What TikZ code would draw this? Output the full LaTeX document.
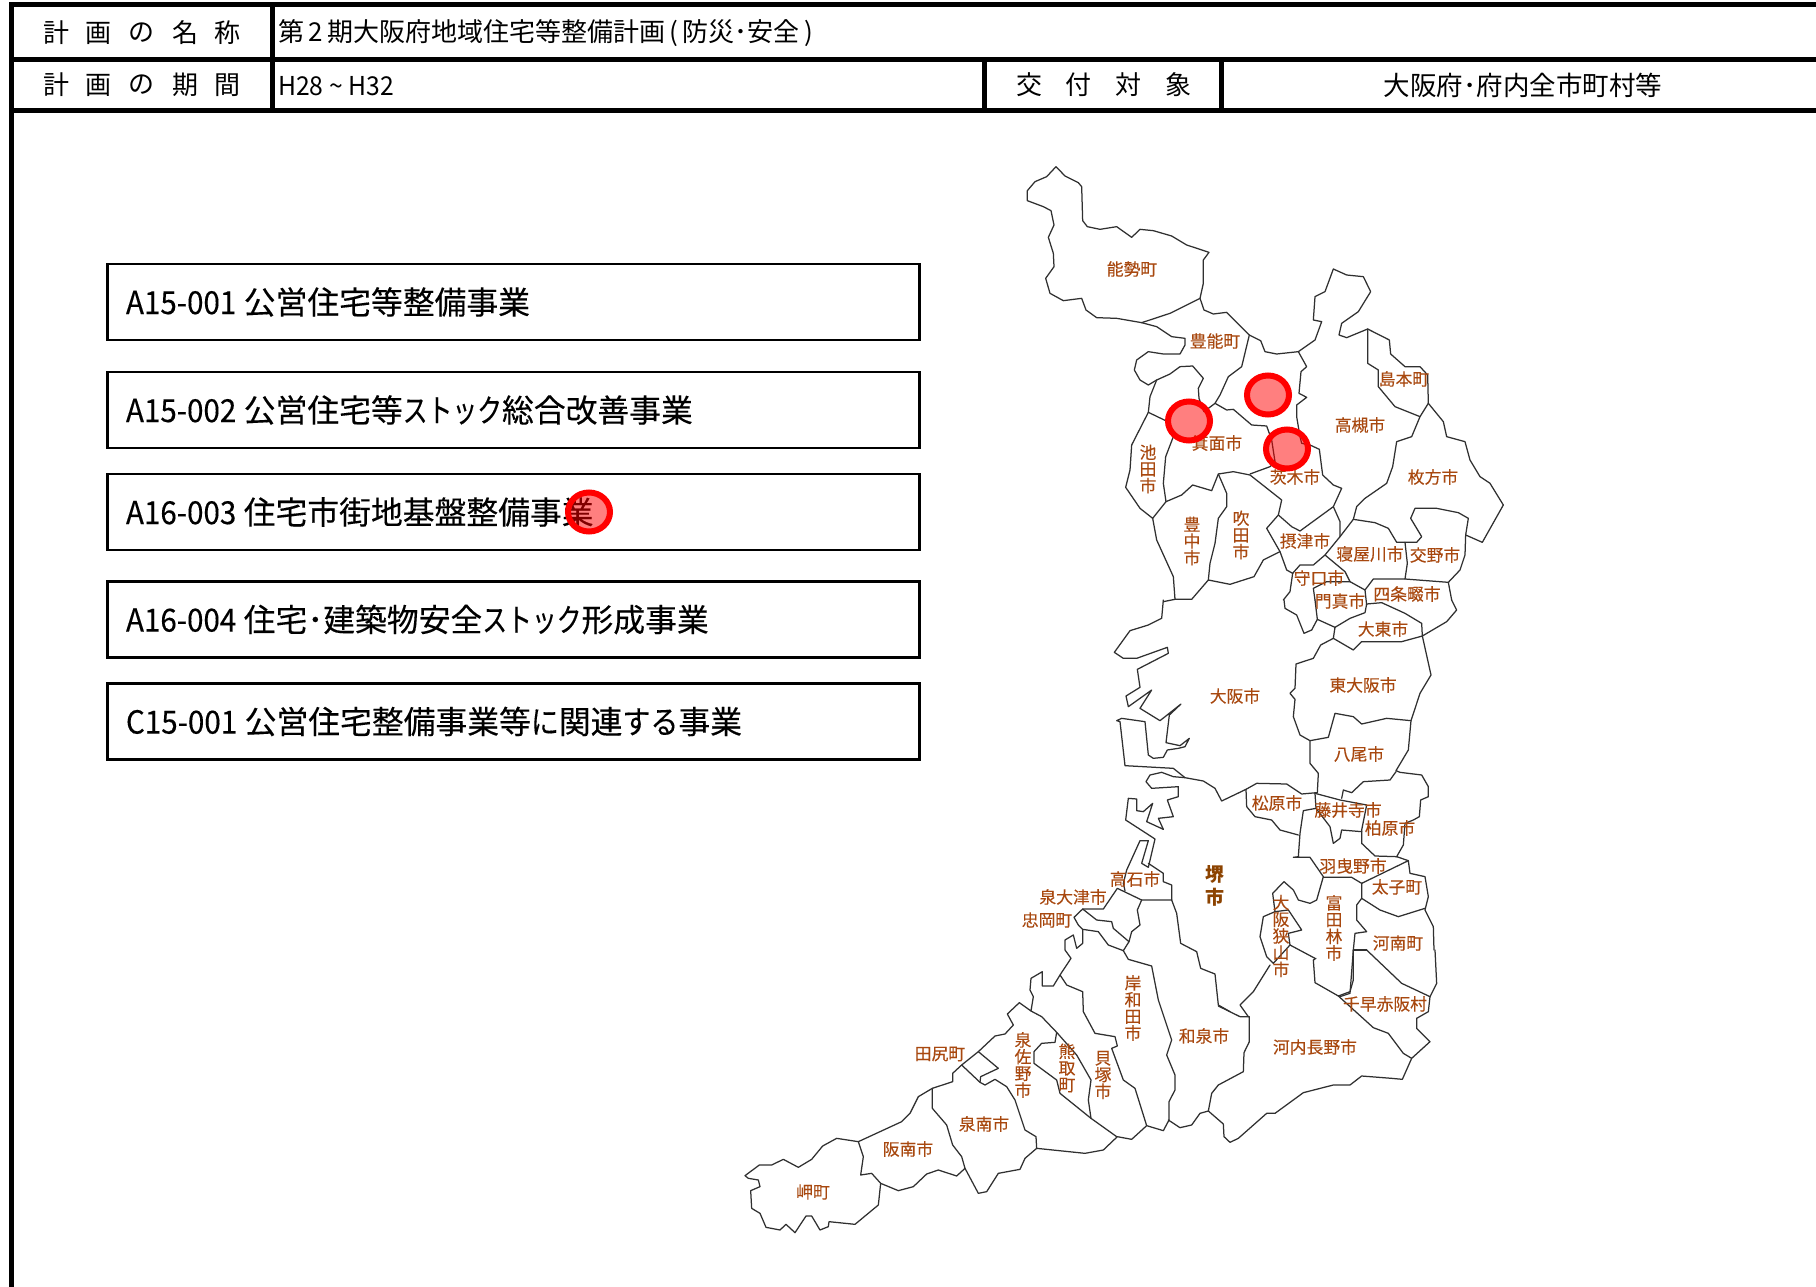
\documentclass[tikz,border=0pt]{standalone}
\usepackage{fontspec}
\usepackage{graphicx}
\setmainfont{Noto Sans CJK JP}
\newfontfamily\itemfont{Noto Sans CJK JP}[FakeBold=0.25]
\newfontfamily\labfont{Noto Sans CJK JP}[FakeBold=0.12]
\definecolor{lab}{HTML}{A8480F}
\definecolor{labd}{HTML}{8C4300}
\definecolor{mapc}{HTML}{303030}
\newcommand\nar[1]{\scalebox{0.93}[1]{#1}\hspace{7.5pt}}
\newcommand\kat{\scalebox{0.78}[1]{ストック}}
\newcommand\mln[1]{\draw[mapline] plot coordinates {#1};}
\tikzset{
  x=1pt,y=-1pt,
  frameline/.style={line width=5pt,black},
  mapline/.style={line width=1.25pt,mapc,line join=round,line cap=round},
  cell/.style={inner sep=0pt,font=\fontsize{26}{26}\selectfont,black},
  cellh/.style={cell,anchor=center},
  itembox/.style={draw=black,line width=2.6pt,minimum width=812pt,minimum height=76pt,inner sep=0pt,
     text width=775pt,align=left,font=\fontsize{31.8}{32}\selectfont\itemfont,black},
  maplab/.style={inner sep=0pt,text=lab,font=\fontsize{16.8}{16.7}\selectfont\labfont,align=center},
  boldlab/.style={inner sep=0pt,text=labd,font=\fontsize{19}{23}\selectfont\bfseries,align=center},
  spot/.style={draw=red,line width=6pt,fill=red,fill opacity=0.5,draw opacity=1},
}
\begin{document}
\begin{tikzpicture}
\useasboundingbox (0,0) rectangle (1816,1287);
\fill[white] (0,0) rectangle (1816,1287);
% frame
\draw[frameline] (1816,5) -- (11.5,5) -- (11.5,1287);
\draw[frameline] (11.5,59.5) -- (1816,59.5);
\draw[frameline] (11.5,111) -- (1816,111);
\draw[frameline] (272,5) -- (272,111);
\draw[frameline] (984,59.5) -- (984,111);
\draw[frameline] (1221,59.5) -- (1221,111);
% table text
\foreach \t/\x in {計/56,画/98,の/141,名/185,称/227} \node[cellh] at (\x,33) {\t};
\foreach \t/\x in {計/56,画/98,の/141,期/185,間/227} \node[cellh] at (\x,85) {\t};
\foreach \t/\x in {交/1029,付/1078,対/1128,象/1178} \node[cellh] at (\x,85) {\t};
\node[cell,anchor=west] (title) at (278,33) {第\,2\,期大阪府地域住宅等整備計画\,(\,防災･安全\,)};
\node[cell,anchor=west] (period) at (278,86) {\scalebox{0.95}[1]{H28 \textasciitilde{} H32}};
\node[cell,font=\fontsize{26.5}{26.5}\selectfont] (target) at (1523,85) {大阪府･府内全市町村等};
% item boxes
\node[itembox] (b1) at (513.5,302) {\nar{A15-001}公営住宅等整備事業};
\node[itembox] (b2) at (513.5,410) {\nar{A15-002}公営住宅等\kat 総合改善事業};
\node[itembox] (b3) at (513.5,512) {\nar{A16-003}住宅市街地基盤整備事業};
\node[itembox] (b4) at (513.5,619.5) {\nar{A16-004}住宅･建築物安全\kat 形成事業};
\node[itembox] (b5) at (513.5,721.5) {\nar{C15-001}公営住宅整備事業等\scalebox{0.88}[1]{に}関連\scalebox{0.88}[1]{する}事業};
% map: north
\begin{scope}[shift={(1000,150)},scale=0.33333]
\mln{(168,50)(140,80)(105,95)(82,122)(82,152)(130,170)(153,182)(162,225)(145,262)(160,310)(162,350)(137,385)(150,430)(190,452)(245,445)(258,480)(290,503)(350,505)(425,518)(510,490)(600,445)(610,400)(610,330)(627,307)(560,285)(515,258)(460,242)(420,238)(395,262)(350,230)(300,238)(262,230)(248,212)(245,110)(235,98)(195,78)(168,50)}
\mln{(425,518)(470,530)(515,560)(555,565)(555,585)(540,612)(490,612)(445,605)(410,630)(403,660)(420,690)(445,705)(470,690)(510,672)(540,650)(578,648)(610,685)(595,715)(597,745)(612,785)}
\mln{(600,445)(612,480)(640,492)(680,487)(748,555)(725,650)(685,680)(660,735)(645,760)(612,785)}
\mln{(748,555)(782,572)(795,605)(830,612)(895,605)(920,650)(903,665)(897,730)(920,742)(890,765)(890,800)(900,860)(905,880)(930,885)(958,898)(968,975)(1000,1005)(1025,1015)(1000,1070)(900,1143)(875,1130)(835,1095)(845,1050)(750,975)(700,965)(655,972)(635,1022)(578,1005)(545,1035)(498,1055)}
\mln{(645,760)(680,780)(700,778)(755,825)(800,828)(815,870)(825,935)(810,950)(750,972)}
\mln{(470,690)(450,740)(445,787)(497,812)(520,860)(497,920)(490,1000)(498,1055)(458,1105)}
\mln{(445,787)(395,885)(390,960)(377,1012)(420,1075)(458,1105)}
\mln{(458,1105)(470,1170)(520,1280)(525,1348)(575,1348)(625,1290)(690,1303)(762,1280)(790,1230)(840,1205)}
\mln{(655,972)(680,1030)(680,1070)(655,1105)(645,1180)(630,1240)(625,1290)}
\mln{(835,1095)(800,1135)(840,1205)(860,1260)(878,1270)}
\mln{(895,605)(945,570)(965,515)(940,510)(945,440)(975,425)(1000,357)(1040,375)(1090,380)(1112,425)(1075,485)(1025,520)(1017,555)(1040,563)(1103,537)(1168,570)(1172,612)(1215,650)(1260,650)(1283,675)(1285,760)(1260,800)(1235,860)(1190,875)(1178,950)(1160,1000)(1095,1045)(1070,1070)(1060,1108)(1020,1160)(975,1215)(940,1245)(900,1245)(878,1270)}
\mln{(1103,537)(1103,640)(1135,660)(1135,710)(1185,770)(1260,800)}
\mln{(1285,760)(1330,815)(1340,860)(1395,875)(1410,930)(1440,980)(1470,1000)(1510,1065)(1447,1177)(1397,1155)(1405,1105)(1375,1088)(1310,1075)(1245,1075)(1232,1105)(1265,1160)(1250,1177)(1190,1177)(1165,1135)(1125,1118)(1060,1108)}
\mln{(1000,1070)(1020,1115)(1020,1160)}
\mln{(1215,1177)(1222,1240)(1215,1287)}
\mln{(1397,1155)(1395,1215)(1380,1260)(1345,1297)(1215,1287)(1120,1287)(1095,1320)(1100,1365)}
\mln{(975,1215)(1035,1265)(1050,1295)(1095,1320)}
\mln{(878,1270)(870,1325)(850,1350)}
\mln{(1050,1295)(980,1295)(940,1315)(945,1350)}
\mln{(1345,1297)(1355,1350)}
\mln{(525,1348)(490,1355)}
\end{scope}
% map: centre
\begin{scope}[shift={(1080,600)},scale=0.33333]
\mln{(612,0)(615,25)(650,45)(672,100)(695,90)(712,58)(765,82)}
\mln{(705,0)(712,58)}
\mln{(765,82)(760,115)(722,135)(700,175)(648,192)(645,265)(630,280)(645,298)(640,350)(660,405)(690,422)(745,412)(765,340)(820,350)(845,372)(920,355)(993,362)}
\mln{(765,82)(810,55)(855,38)(860,12)(905,8)(975,40)(1025,70)(1027,108)(1100,65)(1130,30)(1115,0)}
\mln{(760,115)(820,150)(845,125)(965,125)(1027,108)(1053,225)(1020,280)(993,362)(985,450)(948,512)(960,517)(1025,525)(1045,560)(1045,590)(1022,600)(1018,650)(1000,660)(975,670)(970,735)(950,770)(985,782)(990,820)(1035,830)(1045,890)(1035,930)(1060,980)(1062,1050)}
\mln{(690,422)(690,490)(715,520)(712,578)(705,580)(708,625)(670,632)(660,700)(655,770)(640,772)(690,772)(730,830)(710,900)(690,910)(655,900)(640,870)(612,845)(578,880)(585,935)(625,930)(665,990)(625,1000)(630,1035)(705,1075)}
\mln{(710,578)(665,582)(620,552)(530,550)(498,568)(425,603)(405,565)(370,543)(315,533)(280,505)(135,497)(120,365)(110,362)(125,355)(195,365)(205,465)(220,475)(250,472)(262,450)(295,445)(315,440)(328,415)(300,437)(258,428)(268,345)(303,312)(240,362)(180,325)(215,270)(145,320)(138,288)(180,262)(172,208)(265,160)(262,142)(170,175)(130,175)(103,157)(150,92)(205,75)(245,55)(250,0)}
\mln{(315,533)(280,530)(245,517)(210,525)(198,545)(215,565)(295,560)(295,590)(262,600)(280,650)(235,655)(250,688)(200,665)(218,610)(190,635)(170,632)(170,597)(145,595)(137,660)(225,717)(205,802)(185,790)(205,722)(180,722)(140,810)(130,850)(135,872)}
\mln{(205,790)(250,820)(250,845)(275,855)(275,900)}
\mln{(498,568)(500,620)(525,650)(575,660)(600,690)(655,705)}
\mln{(585,935)(550,950)(540,1010)(560,1070)(580,1090)(630,1035)}
\mln{(780,1190)(810,1180)(820,1050)(825,1000)(860,995)(830,960)(830,915)(845,895)(900,930)(955,950)(1035,925)}
\mln{(845,895)(845,850)(815,832)(730,832)}
\mln{(845,850)(985,782)}
\mln{(820,1050)(860,1050)}
\mln{(705,580)(780,600)(860,615)(845,690)(845,730)(885,768)(950,770)}
\mln{(708,625)(750,680)(760,730)(780,715)(785,690)(845,695)}
\mln{(785,595)(790,570)(815,578)(850,545)(930,540)(948,515)}
\end{scope}
% map: south-west
\begin{scope}[shift={(730,880)},scale=0.33333]
\mln{(1325,60)(1235,60)(1162,25)(1120,87)(1058,87)(1032,112)(1045,135)(1058,148)(1058,190)(1040,205)(1030,165)(1005,180)(1005,210)(1023,235)(990,285)(970,318)(937,318)(937,275)(903,295)(900,330)(910,350)(903,393)(868,368)(832,402)(850,435)(825,462)(795,468)(745,515)(695,555)(668,580)(668,605)(607,625)(565,650)(540,700)(515,725)(385,785)(320,775)(278,798)(245,838)(205,862)(160,838)(125,855)(88,855)(45,887)(55,895)(85,900)(90,920)(62,932)(65,985)(90,1000)(108,1042)(150,1050)(168,1033)(195,1058)(228,1008)(245,1008)(270,1050)(295,1040)(297,1025)(375,1033)(445,975)(452,910)(505,932)(550,920)(590,882)(625,870)(680,888)(705,865)(745,940)(770,935)(805,880)(870,868)(885,835)(920,805)(1065,820)(1120,810)(1162,770)(1205,778)(1250,737)(1300,752)(1317,720)}
\mln{(1058,87)(1100,120)(1145,125)(1150,145)(1197,185)}
\mln{(1235,60)(1222,90)(1230,135)(1205,155)(1197,185)(1180,212)}
\mln{(1058,148)(1105,155)(1135,195)(1180,212)(1195,238)(1265,258)(1285,360)(1325,480)(1310,525)(1335,585)(1335,630)(1317,665)(1317,720)}
\mln{(1325,60)(1340,100)(1352,190)(1400,215)(1412,265)(1455,282)(1465,375)(1500,395)}
\mln{(990,285)(1010,315)(1058,335)(1060,395)(1095,460)(1155,470)(1162,498)(1145,505)(1180,600)(1215,625)(1250,737)}
\mln{(903,393)(935,410)(980,457)(1040,525)(1083,600)(1075,660)(1083,715)(1160,770)}
\mln{(980,457)(975,487)(935,490)(912,515)(912,550)(980,600)(990,640)(1083,715)}
\mln{(695,555)(750,607)(765,615)(795,598)(830,620)(855,660)(885,750)(918,770)(920,805)}
\mln{(745,515)(805,565)(752,590)(750,607)}
\mln{(607,625)(607,685)(650,735)(668,795)(695,830)(705,865)}
\mln{(385,785)(400,830)(392,885)(425,880)(452,910)}
\end{scope}
% map: south-east
\begin{scope}[shift={(1100,950)},scale=0.33333]
\mln{(205,510)(240,533)(275,525)(300,490)(325,483)(335,430)(355,405)(430,365)(432,308)(448,275)(448,200)(420,200)(355,168)}
\mln{(510,45)(460,125)(420,165)(445,200)}
\mln{(325,483)(370,522)(372,560)(390,577)(415,565)(500,490)(525,490)(610,428)(700,405)(750,405)(785,378)(875,385)(907,388)(935,325)(990,275)(950,235)(950,205)(985,185)(990,140)(1010,100)(1005,0)}
\mln{(715,138)(820,233)(865,250)(910,310)(935,325)}
\mln{(648,25)(640,30)(645,98)(715,138)(750,125)(760,90)(760,0)}
\mln{(800,0)(905,100)(990,140)}
\end{scope}
% map labels
\node[maplab] (l1) at (1132,269) {能勢町};
\node[maplab] (l2) at (1215,341) {豊能町};
\node[maplab] (l3) at (1404,379) {島本町};
\node[maplab] (l4) at (1360,425) {高槻市};
\node[maplab] (l5) at (1217,443) {箕面市};
\node[maplab] (l6) at (1148,469) {池\\田\\市};
\node[maplab] (l7) at (1433,477) {枚方市};
\node[maplab] (l8) at (1295,477) {茨木市};
\node[maplab] (l9) at (1192,541) {豊\\中\\市};
\node[maplab] (l10) at (1241,535) {吹\\田\\市};
\node[maplab] (l11) at (1305,541) {摂津市};
\node[maplab] (l12) at (1370,554) {寝屋川市};
\node[maplab] (l13) at (1435,555) {交野市};
\node[maplab] (l14) at (1319,578) {守口市};
\node[maplab] (l15) at (1340,601) {門真市};
\node[maplab] (l16) at (1407,594) {四条畷市};
\node[maplab] (l17) at (1383,629) {大東市};
\node[maplab] (l18) at (1363,685) {東大阪市};
\node[maplab] (l19) at (1235,696) {大阪市};
\node[maplab] (l20) at (1359,754) {八尾市};
\node[maplab] (l21) at (1277,803) {松原市};
\node[maplab] (l22) at (1348,810) {藤井寺市};
\node[maplab] (l23) at (1390,828) {柏原市};
\node[maplab] (l24) at (1353,866) {羽曳野市};
\node[boldlab] (l25) at (1215,886) {堺\\市};
\node[maplab] (l26) at (1135,879) {高石市};
\node[maplab] (l27) at (1397,887) {太子町};
\node[maplab] (l28) at (1073,897) {泉大津市};
\node[maplab] (l29) at (1047,920) {忠岡町};
\node[maplab] (l30) at (1334,928) {富\\田\\林\\市};
\node[maplab] (l31) at (1398,943) {河南町};
\node[maplab] (l32) at (1281,936) {大\\阪\\狭\\山\\市};
\node[maplab] (l33) at (1385,1004) {千早赤阪村};
\node[maplab] (l34) at (1315,1047) {河内長野市};
\node[maplab] (l35) at (1204,1036) {和泉市};
\node[maplab] (l36) at (1133,1008) {岸\\和\\田\\市};
\node[maplab] (l37) at (1023,1065) {泉\\佐\\野\\市};
\node[maplab] (l38) at (1067,1068) {熊\\取\\町};
\node[maplab] (l39) at (1103,1075) {貝\\塚\\市};
\node[maplab] (l40) at (940,1054) {田尻町};
\node[maplab] (l41) at (984,1124) {泉南市};
\node[maplab] (l42) at (908,1149) {阪南市};
\node[maplab] (l43) at (813,1192) {岬町};
% spots
\draw[spot] (1268,395) ellipse (21 and 19.5);
\draw[spot] (1189,421) ellipse (21 and 19.5);
\draw[spot] (1287,449) ellipse (21 and 19.5);
\draw[spot] (589,512) ellipse (21 and 19.5);
\end{tikzpicture}
\end{document}
